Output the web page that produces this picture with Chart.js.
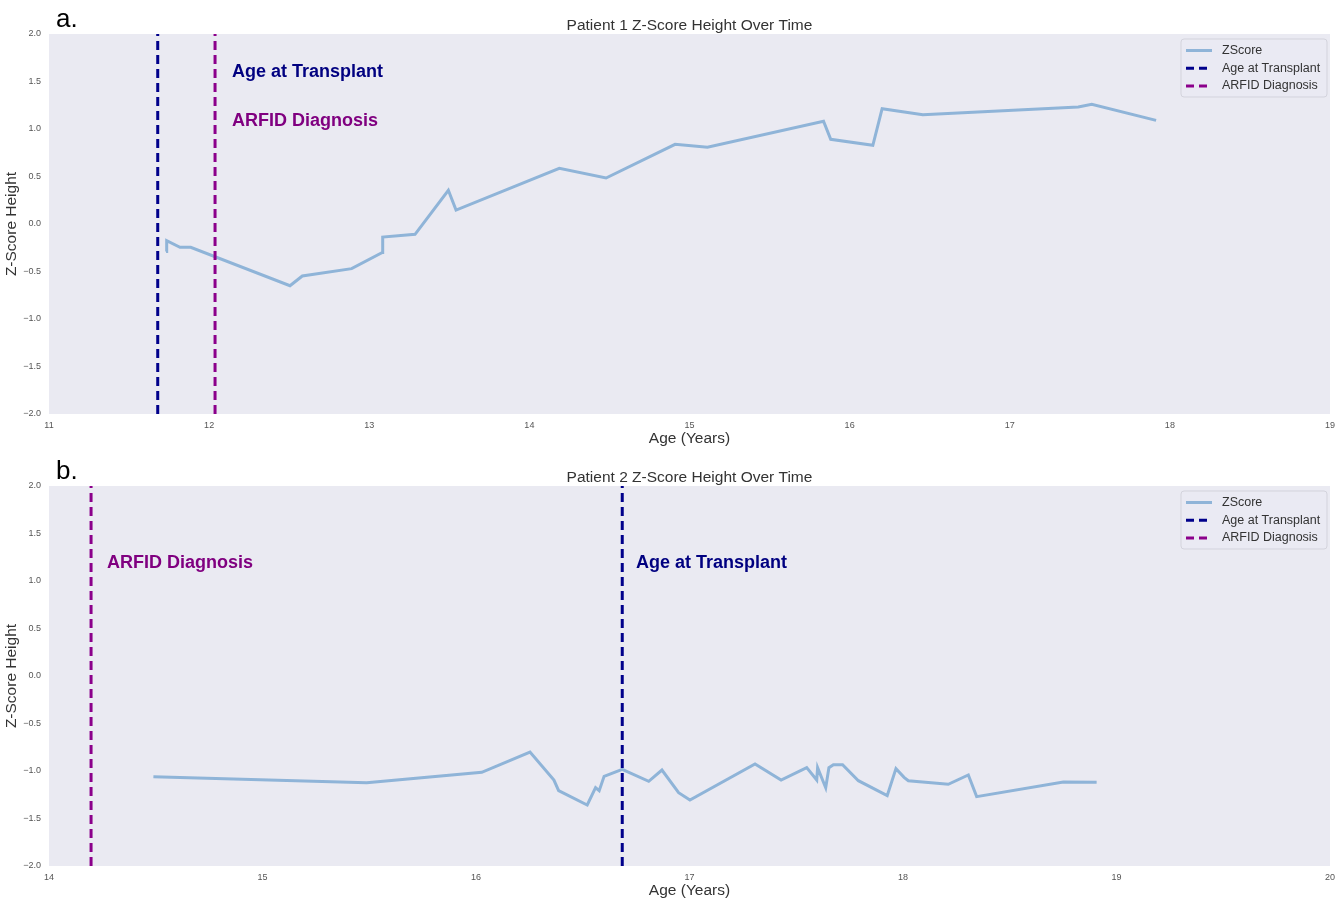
<!DOCTYPE html>
<html>
<head>
<meta charset="utf-8">
<script src="https://cdn.jsdelivr.net/npm/chart.js@4.4.1/dist/chart.umd.min.js"></script>
<style>
  html,body{margin:0;padding:0;background:#ffffff;}
  #wrap{position:relative;width:1343px;height:903px;}
  canvas{position:absolute;left:0;}
  #ca{top:0;}
  #cb{top:452px;}
</style>
</head>
<body>
<div id="wrap">
  <canvas id="ca" width="1343" height="450"></canvas>
  <canvas id="cb" width="1343" height="451"></canvas>
</div>
<script>
// ---------- DATA ----------
const p1Age = [11.731, 11.735, 11.818, 11.885, 12.505, 12.582, 12.890, 13.082, 13.084, 13.286, 13.494, 13.542, 14.187, 14.479, 14.910, 15.112, 15.837, 15.882, 16.145, 16.203, 16.457, 17.428, 17.512, 17.914];
const p1Z   = [-0.29, -0.176, -0.245, -0.245, -0.65, -0.547, -0.47, -0.30, -0.137, -0.109, 0.355, 0.147, 0.586, 0.484, 0.839, 0.807, 1.081, 0.891, 0.828, 1.214, 1.151, 1.232, 1.26, 1.091];
const p1Transplant = 11.679;
const p1Arfid = 12.037;

const p2Age = [14.489, 15.488, 16.027, 16.253, 16.365, 16.387, 16.521, 16.560, 16.577, 16.600, 16.685, 16.809, 16.871, 16.949, 17.002, 17.307, 17.429, 17.549, 17.596, 17.600, 17.638, 17.653, 17.674, 17.717, 17.791, 17.926, 17.967, 18.005, 18.025, 18.212, 18.306, 18.345, 18.751, 18.907];
const p2Z   = [-1.06, -1.123, -1.014, -0.80, -1.095, -1.207, -1.358, -1.175, -1.207, -1.056, -0.982, -1.109, -0.99, -1.228, -1.305, -0.926, -1.095, -0.965, -1.095, -0.965, -1.176, -0.965, -0.934, -0.934, -1.102, -1.26, -0.975, -1.067, -1.102, -1.14, -1.042, -1.27, -1.116, -1.119];
const p2Transplant = 16.685;
const p2Arfid = 14.197;

const p1XRange = [11, 19];
const p2XRange = [14, 20];
const yRange = [-2, 2];

const panelLetters = ['a.', 'b.'];
const titles = ['Patient 1 Z-Score Height Over Time', 'Patient 2 Z-Score Height Over Time'];
const legendLabels = ['ZScore', 'Age at Transplant', 'ARFID Diagnosis'];
const xTitle = 'Age (Years)';
const yTitle = 'Z-Score Height';

// ---------- STYLE ----------
const FONT = '"Liberation Sans", Arial, Helvetica, sans-serif';
const BG = '#EAEAF2';
const ZCOL = '#8fb4d8';
const TCOL = '#00008B';
const ACOL = '#8B008B';
const TTEXT = '#000080';
const ATEXT = '#800080';

function pts(xs, ys){ return xs.map((x,i)=>({x:x, y:ys[i]})); }
function vline(x){ return [{x:x, y:yRange[0]}, {x:x, y:yRange[1]}]; }

const decor = {
  id: 'decor',
  beforeDraw(chart){
    const a = chart.chartArea, c = chart.ctx;
    c.save();
    c.fillStyle = BG;
    c.fillRect(a.left, a.top, a.right - a.left, a.bottom - a.top);
    c.restore();
  },
  afterDraw(chart){
    const o = chart.options.plugins.decor;
    const a = chart.chartArea, c = chart.ctx;
    const xs = chart.scales.x, ys = chart.scales.y;
    c.save();
    // panel letter
    c.fillStyle = '#000';
    c.font = '26px ' + FONT;
    c.textAlign = 'left'; c.textBaseline = 'alphabetic';
    c.fillText(o.letter, 56, 27);
    // title
    c.fillStyle = '#333333';
    c.font = '15.5px ' + FONT;
    c.textAlign = 'center'; c.textBaseline = 'alphabetic';
    c.fillText(o.title, (a.left + a.right)/2, 29.5);
    // x title
    c.fillText(xTitle, (a.left + a.right)/2, a.bottom + 28.5);
    // y title
    c.textBaseline = 'middle';
    c.save();
    c.translate(12, (a.top + a.bottom)/2);
    c.rotate(-Math.PI/2);
    c.fillText(yTitle, 0, 0);
    c.restore();
    // annotations
    c.font = 'bold 18px ' + FONT;
    c.textAlign = 'left'; c.textBaseline = 'middle';
    o.notes.forEach(n => {
      c.fillStyle = n.color;
      c.fillText(n.text, xs.getPixelForValue(n.x), ys.getPixelForValue(n.y));
    });
    // legend
    const lx = a.right - 149, ly = a.top + 5, lw = 146, lh = 58;
    c.beginPath();
    const r = 3;
    c.moveTo(lx + r, ly);
    c.lineTo(lx + lw - r, ly); c.quadraticCurveTo(lx + lw, ly, lx + lw, ly + r);
    c.lineTo(lx + lw, ly + lh - r); c.quadraticCurveTo(lx + lw, ly + lh, lx + lw - r, ly + lh);
    c.lineTo(lx + r, ly + lh); c.quadraticCurveTo(lx, ly + lh, lx, ly + lh - r);
    c.lineTo(lx, ly + r); c.quadraticCurveTo(lx, ly, lx + r, ly);
    c.closePath();
    c.fillStyle = 'rgba(234,234,242,0.8)';
    c.fill();
    c.strokeStyle = '#d3d3dc';
    c.lineWidth = 1;
    c.stroke();
    const items = [
      {label: legendLabels[0], color: ZCOL, dash: []},
      {label: legendLabels[1], color: TCOL, dash: [8, 5]},
      {label: legendLabels[2], color: ACOL, dash: [8, 5]}
    ];
    c.font = '12.5px ' + FONT;
    items.forEach((it, i) => {
      const yy = ly + 11.5 + i * 17.7;
      c.beginPath();
      c.setLineDash(it.dash);
      c.strokeStyle = it.color;
      c.lineWidth = 3;
      c.moveTo(lx + 5, yy); c.lineTo(lx + 31, yy);
      c.stroke();
      c.setLineDash([]);
      c.fillStyle = '#333333';
      c.textAlign = 'left'; c.textBaseline = 'middle';
      c.fillText(it.label, lx + 41, yy);
    });
    c.restore();
  }
};

function makeChart(id, ages, zs, transplant, arfid, xRange, idx, notes, canvasH){
  return new Chart(document.getElementById(id), {
    type: 'scatter',
    data: {
      datasets: [
        {label: legendLabels[0], data: pts(ages, zs), showLine: true, borderColor: ZCOL, borderWidth: 3, pointRadius: 0, pointHoverRadius: 0, order: 2, tension: 0},
        {label: legendLabels[1], data: vline(transplant), showLine: true, borderColor: TCOL, borderWidth: 3, borderDash: [9, 5], pointRadius: 0, order: 1},
        {label: legendLabels[2], data: vline(arfid), showLine: true, borderColor: ACOL, borderWidth: 3, borderDash: [9, 5], pointRadius: 0, order: 1}
      ]
    },
    options: {
      responsive: false,
      animation: false,
      devicePixelRatio: 1,
      events: [],
      layout: {padding: {left: 0, right: 13, top: 34, bottom: 0}},
      scales: {
        x: {
          type: 'linear', min: xRange[0], max: xRange[1],
          grid: {display: false, drawTicks: false},
          border: {display: false},
          ticks: {stepSize: 1, padding: 6, color: '#555555', font: {size: 9, family: FONT}, maxRotation: 0,
                  callback: v => String(v)},
          afterFit(s){ s.height = canvasH - 414; }
        },
        y: {
          type: 'linear', min: yRange[0], max: yRange[1],
          grid: {display: false, drawTicks: false},
          border: {display: false},
          ticks: {stepSize: 0.5, padding: 8, color: '#555555', font: {size: 9, family: FONT},
                  callback: v => (v < 0 ? '\u2212' : '') + Math.abs(v).toFixed(1)},
          afterFit(s){ s.width = 49; }
        }
      },
      plugins: {
        legend: {display: false},
        title: {display: false},
        tooltip: {enabled: false},
        decor: {letter: panelLetters[idx], title: titles[idx], notes: notes}
      }
    },
    plugins: [decor]
  });
}

makeChart('ca', p1Age, p1Z, p1Transplant, p1Arfid, p1XRange, 0, [
  {text: 'Age at Transplant', x: 12.143, y: 1.6, color: TTEXT},
  {text: 'ARFID Diagnosis', x: 12.143, y: 1.084, color: ATEXT}
], 450);
makeChart('cb', p2Age, p2Z, p2Transplant, p2Arfid, p2XRange, 1, [
  {text: 'ARFID Diagnosis', x: 14.272, y: 1.19, color: ATEXT},
  {text: 'Age at Transplant', x: 16.749, y: 1.19, color: TTEXT}
], 451);
</script>
</body>
</html>
